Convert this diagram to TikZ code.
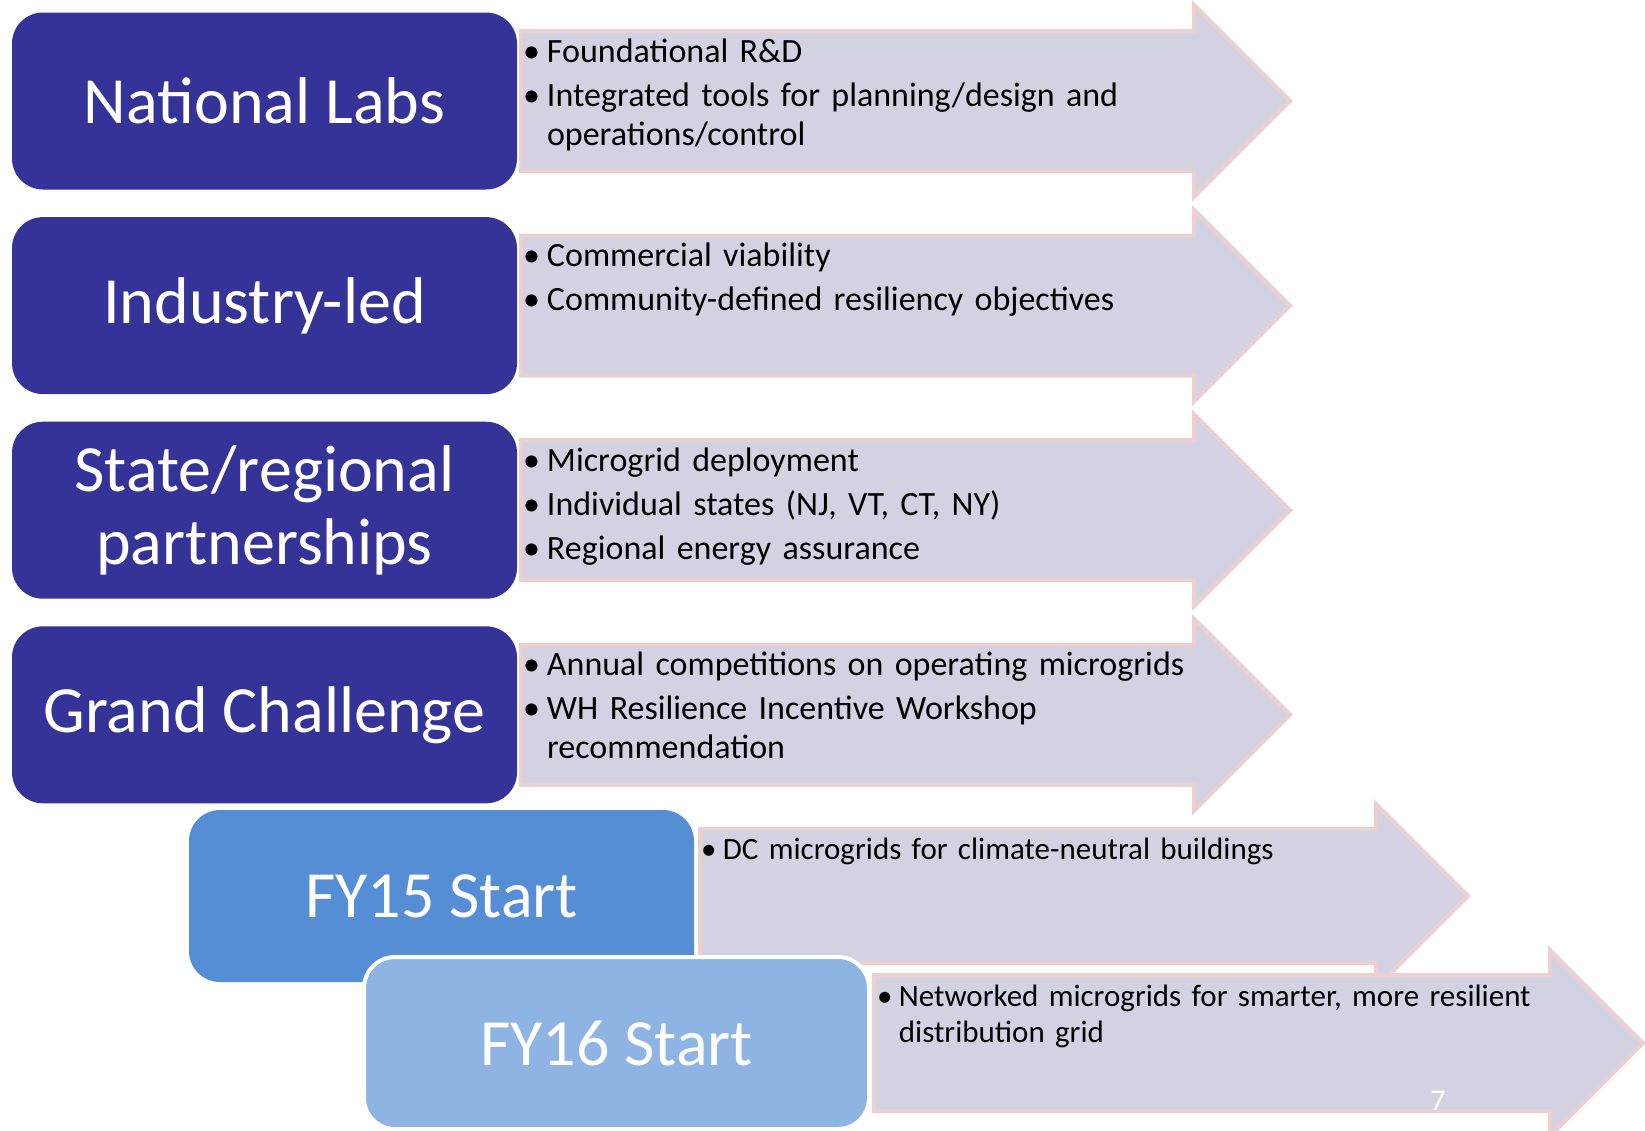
\documentclass[tikz,border=0pt]{standalone}
\usepackage{fontspec}
\setmainfont{Carlito}
\usepackage{tikz}

\definecolor{labblue}{RGB}{53,51,151}
\definecolor{fyfifteen}{RGB}{85,142,213}
\definecolor{fysixteen}{RGB}{142,180,227}
\definecolor{arrowgrey}{RGB}{210,210,226}
\definecolor{arrowpink}{RGB}{236,208,208}

% block arrow: left x, head base x, centre y, half body, half head
\newcommand{\bigarrow}[5]{%
  \draw[arrowbody] (#1,#3-#4) -- (#2,#3-#4) -- (#2,#3-#5) -- (#2+#5,#3)
    -- (#2,#3+#5) -- (#2,#3+#4) -- (#1,#3+#4) -- cycle;}
% bullet points with hanging indent
\newcommand{\firstbul}{\hangindent=0.7em\hangafter=1\noindent\makebox[0.7em][l]{\textbullet}}
\newcommand{\bul}{\par\vspace{5pt}\firstbul}

\begin{document}
\begin{tikzpicture}[x=1pt,y=-1pt,
  labbox/.style={rounded corners=31pt, minimum width=505pt, minimum height=177pt,
    inner sep=0pt, text=white, align=center, font=\fontsize{66}{73}\selectfont},
  arrowbody/.style={fill=arrowgrey, draw=arrowpink, line width=4pt, line join=miter},
  bullets/.style={anchor=base west, inner sep=0pt, text width=760pt,
    font=\fontsize{34}{39}\selectfont},
  smallbullets/.style={bullets, font=\fontsize{31}{36}\selectfont}]
  \useasboundingbox (0,0) rectangle (1645,1130);

  \bigarrow{521}{1194}{101}{70}{96}
  \bigarrow{521}{1194}{305.6}{70}{96}
  \bigarrow{521}{1194}{510.2}{70}{96}
  \bigarrow{521}{1194}{714.8}{70}{96}
  \bigarrow{700}{1376}{896}{67}{92}

  \draw (264.5,101) node[labbox, fill=labblue] (natlabs) {National Labs};
  \draw (264.5,305.6) node[labbox, fill=labblue] (industry) {Industry-led};
  \draw (264.5,510.2) node[labbox, fill=labblue] (state) {State/regional\\partnerships};
  \draw (264.5,714.8) node[labbox, fill=labblue] (grand) {Grand Challenge};
  \draw (441.5,896) node[labbox, fill=fyfifteen, minimum height=172pt] (fy15) {FY15 Start};

  \draw (523,62) node[bullets] (natlabsitems)
    {\firstbul Foundational R\&D \bul Integrated tools for planning/design and\hfil\break operations/control\par};
  \draw (523,266.6) node[bullets] (industryitems)
    {\firstbul Commercial viability \bul Community-defined resiliency objectives\par};
  \draw (523,471.2) node[bullets] (stateitems)
    {\firstbul Microgrid deployment \bul Individual states (NJ, VT, CT, NY) \bul Regional energy assurance\par};
  \draw (523,675.8) node[bullets] (granditems)
    {\firstbul Annual competitions on operating microgrids \bul WH Resilience Incentive Workshop\hfil\break recommendation\par};
  \draw (701,859) node[smallbullets] (fy15items)
    {\firstbul DC microgrids for climate-neutral buildings\par};

  \bigarrow{874}{1550}{1043}{68}{93}
  \draw (616.5,1043) node[labbox, fill=fysixteen, draw=white, line width=4pt,
    minimum height=172pt] (fy16) {FY16 Start};
  \draw (877,1006) node[smallbullets] (fy16items)
    {\firstbul Networked microgrids for smarter, more resilient\hfil\break distribution grid\par};

  \draw (1438,1101) node[text=white, font=\fontsize{30}{32}\selectfont] (pagenum) {7};
\end{tikzpicture}
\end{document}
